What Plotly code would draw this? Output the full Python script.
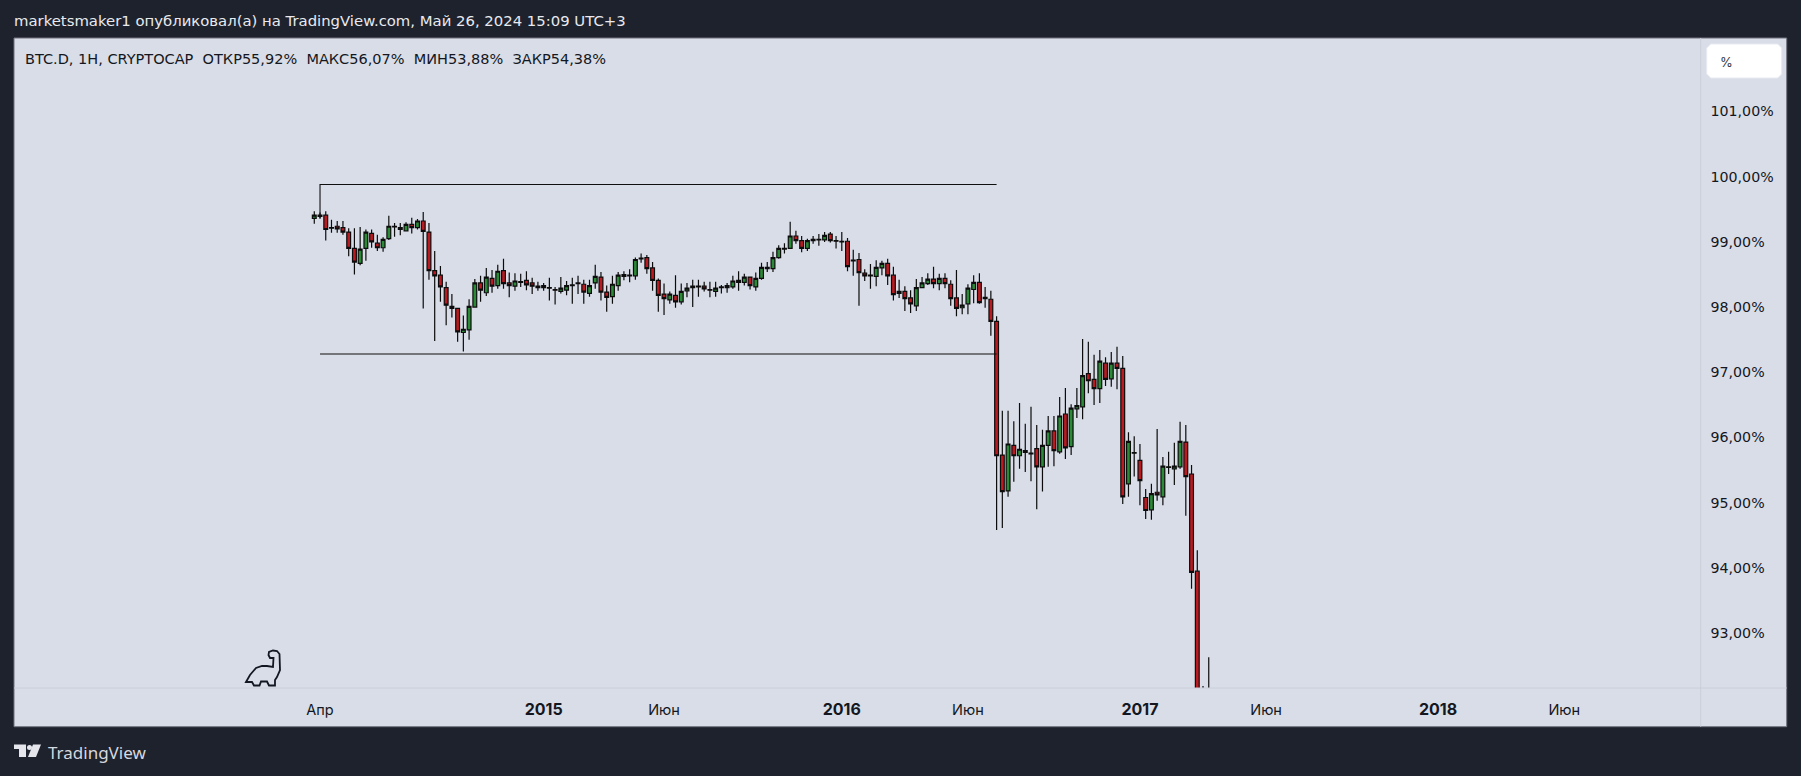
import pandas as pd
import plotly.graph_objects as go

W, H = 1801, 776
DARK = "#1e222d"
PANE = "#d9dde7"
SEP = "#cbced8"
INK = "#131722"

first_week = "2014-03-31"

highs = [99.47,99.45,99.47,99.34,99.32,99.32,99.21,99.21,99.23,99.19,99.19,99.11,99.07,99.40,99.29,99.29,99.30,99.37,99.35,99.46,
99.29,98.86,98.63,98.39,98.20,97.98,97.87,98.12,98.43,98.48,98.60,98.57,98.65,98.74,98.53,98.52,98.51,98.55,98.45,98.39,
98.37,98.45,98.31,98.46,98.40,98.45,98.48,98.42,98.42,98.65,98.54,98.33,98.48,98.54,98.55,98.58,98.76,98.82,98.80,98.69,
98.44,98.36,98.24,98.49,98.36,98.37,98.42,98.42,98.39,98.39,98.39,98.34,98.37,98.48,98.55,98.51,98.46,98.53,98.68,98.69,
98.85,98.95,98.98,99.31,99.17,99.09,99.05,99.09,99.12,99.15,99.15,99.09,99.15,99.06,98.88,98.83,98.58,98.66,98.72,98.71,
98.74,98.62,98.42,98.32,98.26,98.43,98.46,98.52,98.62,98.51,98.52,98.41,98.57,98.20,98.35,98.49,98.52,98.31,98.25,97.86,
96.41,96.41,96.25,96.53,96.21,96.47,96.19,96.12,96.33,96.33,96.62,96.76,96.51,96.76,97.51,97.47,97.27,97.34,97.23,97.31,
97.39,97.25,96.08,96.02,95.90,95.21,95.29,96.13,95.70,95.78,95.92,96.24,96.19,95.58,94.27,92.19,92.63]

opens = [99.36,99.41,99.41,99.21,99.24,99.22,99.15,98.90,98.67,98.90,99.13,98.98,98.91,99.05,99.23,99.22,99.17,99.27,99.22,99.32,
99.15,98.56,98.49,98.30,98.01,97.98,97.61,97.65,98.00,98.37,98.22,98.44,98.33,98.56,98.37,98.32,98.38,98.41,98.37,98.32,
98.30,98.30,98.27,98.24,98.26,98.33,98.36,98.35,98.21,98.37,98.46,98.23,98.16,98.33,98.47,98.48,98.48,98.74,98.76,98.60,
98.41,98.20,98.11,98.18,98.08,98.25,98.30,98.31,98.32,98.27,98.24,98.30,98.30,98.31,98.41,98.38,98.46,98.31,98.44,98.59,
98.59,98.76,98.89,98.90,99.09,99.02,98.90,99.02,99.03,99.03,99.12,99.02,99.01,99.01,98.72,98.73,98.52,98.49,98.47,98.60,
98.67,98.49,98.21,98.24,98.14,98.02,98.30,98.36,98.43,98.36,98.44,98.35,98.14,97.99,98.05,98.27,98.38,98.15,98.12,97.78,
95.73,95.18,95.88,95.72,95.80,95.76,95.83,95.55,95.88,96.10,95.78,96.36,95.86,96.44,96.47,96.98,96.89,96.75,97.14,96.90,
97.14,97.06,95.29,95.76,95.65,95.08,94.89,95.16,95.09,95.54,95.52,95.55,95.93,95.44,93.95,91.80,91.20]

closes = [99.41,99.39,99.19,99.22,99.20,99.15,98.90,98.69,98.89,99.15,99.00,98.91,99.04,99.24,99.24,99.19,99.27,99.22,99.32,99.16,
98.56,98.48,98.31,98.03,97.98,97.62,97.66,98.01,98.37,98.26,98.46,98.32,98.55,98.36,98.33,98.40,98.39,98.34,98.32,98.30,
98.33,98.29,98.26,98.29,98.33,98.34,98.37,98.23,98.33,98.47,98.23,98.15,98.35,98.49,98.50,98.49,98.73,98.75,98.59,98.41,
98.18,98.13,98.20,98.08,98.24,98.29,98.32,98.32,98.28,98.26,98.29,98.31,98.33,98.40,98.38,98.46,98.33,98.44,98.61,98.61,
98.76,98.90,98.90,99.09,99.02,98.90,99.02,99.04,99.04,99.10,99.02,99.01,99.00,98.62,98.71,98.53,98.48,98.48,98.61,98.67,
98.48,98.19,98.24,98.13,98.05,98.30,98.37,98.43,98.36,98.44,98.36,98.13,97.98,98.03,98.29,98.38,98.07,98.13,97.78,95.72,
95.17,95.90,95.72,95.82,95.77,95.75,95.55,95.88,96.10,95.80,96.33,95.84,96.45,96.49,96.95,96.87,96.75,97.17,96.89,97.14,
97.06,95.09,95.94,95.77,95.34,94.88,95.14,95.12,95.56,95.55,95.56,95.94,95.40,93.93,91.80,91.20,90.60]

lows = [99.28,99.36,99.02,99.14,99.14,99.11,98.78,98.50,98.64,98.71,98.91,98.86,98.85,99.03,99.08,99.10,99.16,99.13,99.19,97.98,
98.42,97.48,98.08,97.72,97.84,97.47,97.32,97.50,97.99,98.08,98.17,98.22,98.28,98.28,98.15,98.25,98.31,98.26,98.20,98.25,
98.25,98.10,98.04,98.21,98.18,98.05,98.20,98.05,98.16,98.28,98.10,97.93,98.05,98.25,98.41,98.38,98.42,98.68,98.51,98.25,
97.93,97.88,98.05,97.99,98.04,98.15,98.00,98.16,98.24,98.15,98.16,98.21,98.22,98.28,98.25,98.33,98.27,98.25,98.42,98.54,
98.54,98.74,98.82,98.90,98.97,98.84,98.86,98.97,98.94,99.00,98.99,98.90,98.86,98.55,98.48,98.02,98.40,98.28,98.32,98.49,
98.34,98.10,98.14,97.94,97.91,97.94,98.30,98.34,98.29,98.26,98.29,98.02,97.86,97.89,97.89,98.06,98.05,97.99,97.56,94.58,
94.61,95.09,95.32,95.52,95.47,95.33,94.90,95.17,95.55,95.56,95.75,95.67,95.73,96.30,96.28,96.68,96.50,96.53,96.79,96.78,
96.74,94.98,95.09,95.40,94.96,94.75,94.74,95.03,94.96,95.44,95.27,95.52,94.80,93.68,91.50,90.90,90.30]

box_top = 99.88
box_bottom = 97.28
box_left = "2014-04-07"
box_right = "2016-07-11"
box_corner_low = 99.36

tick_dates = ["2014-04-07","2015-01-05","2015-06-01","2016-01-04","2016-06-06","2017-01-02","2017-06-05","2018-01-01","2018-06-04"]
year_style = '<b style="font-size:16px">{}</b>'
tick_names = ["Апр",year_style.format("2015"),"Июн",year_style.format("2016"),"Июн",year_style.format("2017"),"Июн",year_style.format("2018"),"Июн"]
price_ticks = [93,94,95,96,97,98,99,100,101]
price_names = ["93,00%","94,00%","95,00%","96,00%","97,00%","98,00%","99,00%","100,00%","101,00%"]

header_text = "marketsmaker1 опубликовал(а) на TradingView.com, Май 26, 2024 15:09 UTC+3"
info_text = "BTC.D, 1Н, CRYPTOCAP  ОТКР55,92%  МАКС56,07%  МИН53,88%  ЗАКР54,38%"

dates = pd.date_range(first_week, periods=len(opens), freq="7D")


def fx(p):
    return p / W


def fy(p):
    return 1 - p / H


def path(points, close=True):
    s = "M" + " L".join(f"{fx(x):.5f},{fy(y):.5f}" for x, y in points)
    return s + (" Z" if close else "")


fig = go.Figure()
fig.add_trace(go.Scatter(x=[box_left, box_left, box_right], y=[box_corner_low, box_top, box_top],
                         mode="lines", line=dict(color="#0f0f0f", width=1.1), hoverinfo="skip", showlegend=False))
fig.add_trace(go.Scatter(x=[box_left, box_right], y=[box_bottom, box_bottom],
                         mode="lines", line=dict(color="#0f0f0f", width=1.1), hoverinfo="skip", showlegend=False))
fig.add_trace(go.Candlestick(
    x=dates, open=opens, high=highs, low=lows, close=closes, whiskerwidth=0,
    increasing=dict(fillcolor="#2a8a35", line=dict(color="#0c0c0c", width=1.2)),
    decreasing=dict(fillcolor="#bb1a20", line=dict(color="#0c0c0c", width=1.2)),
    showlegend=False,
))

L, R, T, B, AX, FOOT = 14, 1700.7, 38, 688, 1786.7, 726.7

dino = [(246,682),(250,675),(256,668),(262,666),(267,666),(273,667),(273.5,658),(270,658),(268.5,655),
        (269,652),(273,650.5),(277,651),(279.5,654),(280,670),(277,677),(275,680),(275,685.5),(269,685.5),
        (267,681.5),(261,681.5),(259.5,685.5),(254,685.5),(252,682)]
logo_t = [(14,744.5),(26,744.5),(26,757),(19,757),(19,749),(14,749)]
logo_s = [(33,744.5),(41,744.5),(36,757),(28,757)]

shapes = [
    dict(type="rect", xref="paper", yref="paper", x0=fx(L), x1=fx(AX), y0=fy(FOOT), y1=fy(T),
         fillcolor=PANE, line=dict(color="#70737e", width=1), layer="below"),
    dict(type="line", xref="paper", yref="paper", x0=fx(L), x1=fx(AX), y0=fy(B), y1=fy(B),
         line=dict(color=SEP, width=1), layer="above"),
    dict(type="line", xref="paper", yref="paper", x0=fx(R), x1=fx(R), y0=fy(FOOT), y1=fy(T),
         line=dict(color=SEP, width=1), layer="above"),
    dict(type="path", xref="paper", yref="paper", path=path(dino), line=dict(color=INK, width=1.8)),
    dict(type="path", xref="paper", yref="paper", path=path(logo_t), fillcolor="#e4e6ec", line=dict(width=0)),
    dict(type="path", xref="paper", yref="paper", path=path(logo_s), fillcolor="#e4e6ec", line=dict(width=0)),
    dict(type="circle", xref="paper", yref="paper", x0=fx(27), x1=fx(32), y0=fy(750), y1=fy(745),
         fillcolor="#e4e6ec", line=dict(width=0)),
    dict(type="path", xref="paper", yref="paper",
         path=path([(1710.7,44),(1777.7,44),(1781.7,48),(1781.7,74),(1777.7,78),(1710.7,78),(1706.7,74),(1706.7,48)]),
         fillcolor="#ffffff", line=dict(color="#e8eaf0", width=1)),
]


def note(text, x, y, size, color, family="DejaVu Sans"):
    return dict(text=text, xref="paper", yref="paper", x=fx(x), y=fy(y), xanchor="left", yanchor="middle",
                showarrow=False, font=dict(size=size, color=color, family=family), align="left")


annotations = [
    note(header_text, 12, 21, 14.85, "#e8eaef"),
    note(info_text, 23, 59, 14.5, INK),
    note("%", 1718, 62, 13, "#333745", "Inter"),
    note("TradingView", 46, 752.5, 17, "#d6d8df", "Noto Sans"),
]

fig.update_layout(
    width=W, height=H, margin=dict(l=0, r=0, t=0, b=0), autosize=False,
    paper_bgcolor=DARK, plot_bgcolor=PANE, showlegend=False, boxgap=0.05, boxgroupgap=0.3, hovermode=False,
    shapes=shapes, annotations=annotations,
    xaxis=dict(domain=[fx(L), fx(R)], range=["2013-03-29 09:36", "2018-11-17 14:24"], type="date",
               rangeslider=dict(visible=False), showgrid=False, zeroline=False, showline=False,
               tickmode="array", tickvals=tick_dates, ticktext=tick_names,
               ticks="outside", ticklen=9, tickcolor="rgba(0,0,0,0)",
               tickfont=dict(family="Inter", size=14.5, color=INK)),
    yaxis=dict(domain=[fy(B), fy(T)], range=[92.158, 102.127], side="right", anchor="x",
               showgrid=False, zeroline=False, showline=False,
               tickmode="array", tickvals=price_ticks, ticktext=price_names,
               ticks="outside", ticklen=6, tickcolor="rgba(0,0,0,0)",
               tickfont=dict(family="DejaVu Sans", size=14.2, color=INK)),
)

fig.write_html("out.html", config={"displayModeBar": False},
               post_script=f"document.body.style.margin='0';document.body.style.background='{DARK}';document.body.style.overflow='hidden';")
